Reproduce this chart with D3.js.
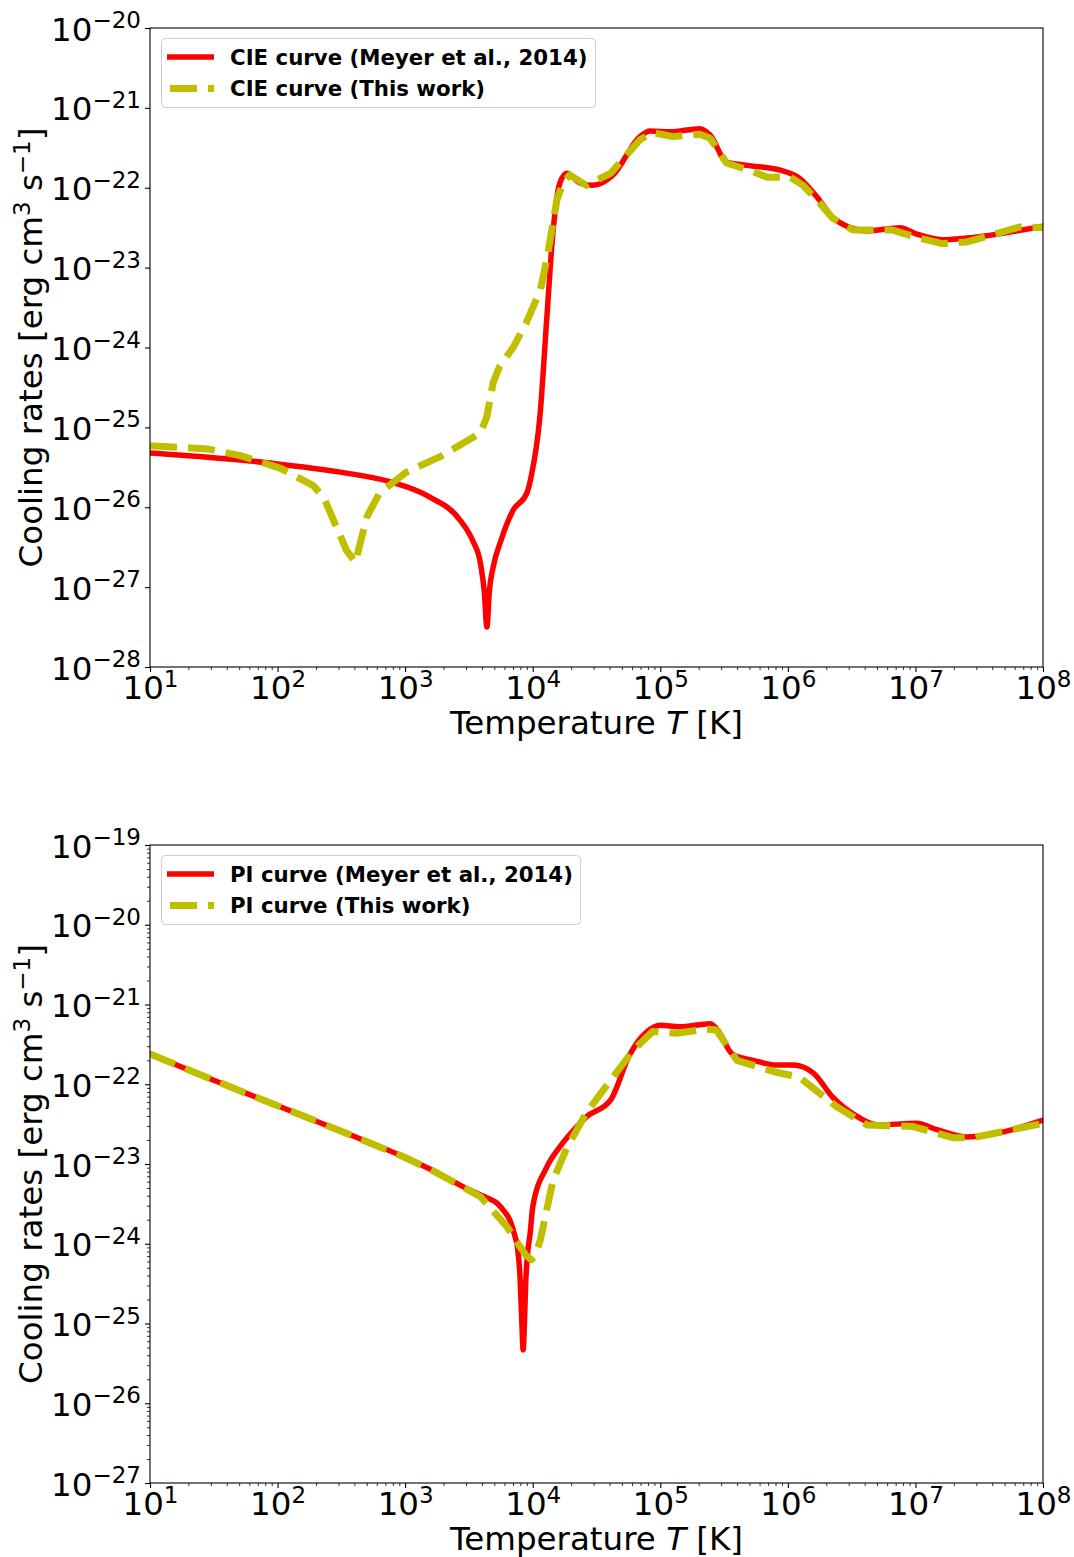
<!DOCTYPE html>
<html>
<head>
<meta charset="utf-8">
<script src="https://cdn.jsdelivr.net/npm/d3@7"></script>
<style>
  html, body { margin: 0; padding: 0; background: #fff; }
  svg { display: block; }
  svg text { font-family: "DejaVu Sans", sans-serif; }
</style>
</head>
<body>
<svg id="chart" width="1074" height="1557"></svg>
<script>
// ---------------- DATA (log10 T, log10 Lambda) ----------------
const xTickExponents = [1, 2, 3, 4, 5, 6, 7, 8];
const topYTickExponents = [-28, -27, -26, -25, -24, -23, -22, -21, -20];
const botYTickExponents = [-27, -26, -25, -24, -23, -22, -21, -20, -19];

// CIE curve (Meyer et al., 2014)
const cieMeyerLogT = [1.0, 1.43, 1.96, 2.49, 2.88, 3.19, 3.43, 3.53, 3.59, 3.62, 3.641, 3.66, 3.69, 3.75, 3.845, 3.955, 3.99, 4.056, 4.111, 4.158, 4.213, 4.268, 4.37, 4.47, 4.63, 4.84, 4.92, 5.075, 5.31, 5.39, 5.52, 5.68, 5.94, 6.09, 6.23, 6.35, 6.49, 6.62, 6.88, 7.01, 7.21, 7.40, 8.0];
const cieMeyerLogL = [-25.32, -25.37, -25.45, -25.56, -25.68, -25.87, -26.16, -26.42, -26.70, -27.05, -27.50, -27.05, -26.75, -26.42, -26.04, -25.82, -25.60, -24.87, -23.62, -22.57, -21.94, -21.82, -21.94, -21.97, -21.84, -21.36, -21.29, -21.30, -21.26, -21.34, -21.68, -21.72, -21.78, -21.88, -22.12, -22.37, -22.50, -22.54, -22.50, -22.58, -22.65, -22.63, -22.48];

// CIE curve (This work)
const cieThisLogT = [1.0, 1.45, 1.70, 2.02, 2.28, 2.36, 2.54, 2.61, 2.70, 2.80, 3.01, 3.27, 3.59, 3.64, 3.69, 3.74, 3.85, 3.95, 4.06, 4.11, 4.19, 4.24, 4.29, 4.42, 4.61, 4.84, 4.94, 5.10, 5.31, 5.39, 5.52, 5.73, 5.84, 6.02, 6.12, 6.25, 6.35, 6.51, 6.82, 7.03, 7.21, 7.40, 7.82, 8.0];
const cieThisLogL = [-25.23, -25.27, -25.35, -25.51, -25.73, -25.87, -26.54, -26.69, -26.12, -25.82, -25.56, -25.37, -25.07, -24.87, -24.44, -24.24, -23.99, -23.69, -23.28, -22.90, -22.15, -21.93, -21.84, -21.97, -21.82, -21.40, -21.31, -21.36, -21.33, -21.38, -21.69, -21.80, -21.87, -21.87, -21.97, -22.19, -22.38, -22.53, -22.53, -22.63, -22.70, -22.68, -22.49, -22.50];

// PI curve (Meyer et al., 2014)
const piMeyerLogT = [1.0, 1.5, 2.0, 2.5, 2.96, 3.19, 3.51, 3.65, 3.72, 3.78, 3.82, 3.86, 3.88, 3.90, 3.915, 3.925, 3.935, 3.945, 3.96, 3.98, 4.0, 4.11, 4.21, 4.37, 4.42, 4.61, 4.76, 4.89, 5.0, 5.15, 5.39, 5.44, 5.57, 5.73, 5.91, 6.04, 6.20, 6.35, 6.56, 6.70, 7.01, 7.17, 7.40, 8.0];
const piMeyerLogL = [-21.62, -21.95, -22.27, -22.59, -22.89, -23.06, -23.33, -23.43, -23.49, -23.60, -23.70, -23.90, -24.04, -24.40, -25.00, -25.33, -25.00, -24.50, -24.12, -23.87, -23.54, -23.04, -22.79, -22.49, -22.41, -22.20, -21.63, -21.35, -21.26, -21.28, -21.24, -21.30, -21.63, -21.70, -21.76, -21.76, -21.86, -22.16, -22.42, -22.51, -22.49, -22.57, -22.66, -22.45];

// PI curve (This work)
const piThisLogT = [1.0, 1.5, 2.0, 2.5, 2.96, 3.19, 3.59, 3.80, 3.88, 3.95, 3.99, 4.02, 4.06, 4.16, 4.27, 4.42, 4.61, 4.79, 4.94, 5.13, 5.36, 5.44, 5.60, 5.91, 6.09, 6.38, 6.62, 6.98, 7.29, 7.45, 8.0];
const piThisLogL = [-21.62, -21.95, -22.27, -22.59, -22.89, -23.06, -23.41, -23.79, -23.99, -24.15, -24.20, -24.15, -23.95, -23.20, -22.79, -22.36, -21.95, -21.57, -21.34, -21.36, -21.31, -21.32, -21.70, -21.85, -21.91, -22.28, -22.51, -22.53, -22.67, -22.67, -22.49];

const legendTop = ["CIE curve (Meyer et al., 2014)", "CIE curve (This work)"];
const legendBot = ["PI curve (Meyer et al., 2014)", "PI curve (This work)"];

// ---------------- DRAWING ----------------
const svg = d3.select("#chart");
const RED = "#ff0000", YEL = "#bfbf00";
const DASH = "27,11";
const FONT = "DejaVu Sans, sans-serif";
const pow10 = v => Math.pow(10, v);
const MINUS = "\u2212";
const FS = 32.5, FSUP = 23, SUPDY = 12.5;

function drawPanel(cfg) {
  const x = d3.scaleLog().domain([1e1, 1e8]).range([cfg.x0, cfg.x1]);
  const y = d3.scaleLog().domain([pow10(cfg.yMinExp), pow10(cfg.yMaxExp)]).range([cfg.y1, cfg.y0]);

  const g = svg.append("g");
  const clipId = "clip" + cfg.id;
  svg.append("clipPath").attr("id", clipId).append("rect")
    .attr("x", cfg.x0).attr("y", cfg.y0).attr("width", cfg.x1 - cfg.x0).attr("height", cfg.y1 - cfg.y0);

  // curves
  const line = d3.line().x(d => x(pow10(d[0]))).y(d => y(pow10(d[1])));
  const curves = g.append("g").attr("clip-path", `url(#${clipId})`);
  const redData = d3.zip(cfg.redT, cfg.redL);
  const yelData = d3.zip(cfg.yelT, cfg.yelL);
  curves.append("path").datum(redData)
    .attr("d", line.curve(d3.curveMonotoneX))
    .attr("fill", "none").attr("stroke", RED).attr("stroke-width", 5.5)
    .attr("stroke-linejoin", "round").attr("stroke-linecap", "round");
  curves.append("path").datum(yelData)
    .attr("d", line.curve(d3.curveLinear))
    .attr("fill", "none").attr("stroke", YEL).attr("stroke-width", 7)
    .attr("stroke-dasharray", DASH).attr("stroke-linejoin", "round");

  // frame
  g.append("rect").attr("x", cfg.x0).attr("y", cfg.y0)
    .attr("width", cfg.x1 - cfg.x0).attr("height", cfg.y1 - cfg.y0)
    .attr("fill", "none").attr("stroke", "#000").attr("stroke-width", 1.1);

  // x axis major
  const xMajor = xTickExponents.map(pow10);
  const xMinor = [];
  for (let e = 1; e < 8; e++) for (let m = 2; m <= 9; m++) xMinor.push(m * pow10(e));
  const gx = g.append("g").attr("transform", `translate(0,${cfg.y1})`)
    .call(d3.axisBottom(x).tickValues(xMajor).tickSize(5).tickFormat(() => ""))
    .attr("font-family", FONT).attr("font-size", null);
  gx.select(".domain").remove();
  gx.selectAll(".tick line").attr("stroke", "#000").attr("stroke-width", 1.1);
  gx.selectAll(".tick text").remove();
  gx.selectAll(".tick").each(function(d, i) {
    const t = d3.select(this).append("text")
      .attr("y", 32).attr("text-anchor", "middle").attr("fill", "#000")
      .style("font-size", FS + "px").style("font-family", FONT);
    t.append("tspan").text("10");
    t.append("tspan").attr("dy", -SUPDY).style("font-size", FSUP + "px").text(String(xTickExponents[i]));
  });
  const gxm = g.append("g").attr("transform", `translate(0,${cfg.y1})`)
    .call(d3.axisBottom(x).tickValues(xMinor).tickSize(3).tickFormat(() => ""));
  gxm.select(".domain").remove();
  gxm.selectAll(".tick text").remove();
  gxm.selectAll(".tick line").attr("stroke", "#000").attr("stroke-width", 0.8);

  // y axis major
  const gy = g.append("g").attr("transform", `translate(${cfg.x0},0)`)
    .call(d3.axisLeft(y).tickValues(cfg.yTicks.map(pow10)).tickSize(5).tickFormat(() => ""))
    .attr("font-family", FONT).attr("font-size", null);
  gy.select(".domain").remove();
  gy.selectAll(".tick line").attr("stroke", "#000").attr("stroke-width", 1.1);
  gy.selectAll(".tick text").remove();
  gy.selectAll(".tick").each(function(d, i) {
    const t = d3.select(this).append("text")
      .attr("x", -9).attr("y", 12).attr("text-anchor", "end").attr("fill", "#000")
      .style("font-size", FS + "px").style("font-family", FONT);
    t.append("tspan").text("10");
    t.append("tspan").attr("dy", -SUPDY).style("font-size", FSUP + "px")
      .text(MINUS + String(Math.abs(cfg.yTicks[i])));
  });
  if (cfg.yMinor) {
    const yMinorVals = [];
    for (let e = cfg.yMinExp; e < cfg.yMaxExp; e++) for (let m = 2; m <= 9; m++) yMinorVals.push(m * pow10(e));
    const gym = g.append("g").attr("transform", `translate(${cfg.x0},0)`)
      .call(d3.axisLeft(y).tickValues(yMinorVals).tickSize(3).tickFormat(() => ""));
    gym.select(".domain").remove();
    gym.selectAll(".tick text").remove();
    gym.selectAll(".tick line").attr("stroke", "#000").attr("stroke-width", 0.8);
  }

  // x label
  const xl = g.append("text").attr("x", (cfg.x0 + cfg.x1) / 2).attr("y", cfg.y1 + 67)
    .attr("text-anchor", "middle").style("font-size", FS + "px").attr("fill", "#000");
  xl.append("tspan").text("Temperature ");
  xl.append("tspan").style("font-style", "italic").text("T");
  xl.append("tspan").text(" [K]");

  // y label
  const yl = g.append("text")
    .attr("transform", `translate(42,${(cfg.y0 + cfg.y1) / 2}) rotate(-90)`)
    .attr("text-anchor", "middle").style("font-size", FS + "px").attr("fill", "#000");
  yl.append("tspan").text("Cooling rates [erg cm");
  yl.append("tspan").attr("dy", -SUPDY).style("font-size", FSUP + "px").text("3");
  yl.append("tspan").attr("dy", SUPDY).text(" s");
  yl.append("tspan").attr("dy", -SUPDY).style("font-size", FSUP + "px").text(MINUS + "1");
  yl.append("tspan").attr("dy", SUPDY).text("]");

  // legend
  const lg = g.append("g");
  lg.append("rect").attr("x", cfg.x0 + 11.5).attr("y", cfg.y0 + 10.5)
    .attr("width", cfg.legW).attr("height", 69).attr("rx", 4)
    .attr("fill", "#fff").attr("fill-opacity", 0.8)
    .attr("stroke", "#cccccc").attr("stroke-width", 1);
  const rows = [
    { label: cfg.legend[0], color: RED, w: 5.5, dash: null },
    { label: cfg.legend[1], color: YEL, w: 7, dash: DASH }
  ];
  rows.forEach((r, i) => {
    const cy = cfg.y0 + 29 + i * 31.5;
    const ln = lg.append("line")
      .attr("x1", cfg.x0 + (r.dash ? 20 : 17)).attr("x2", cfg.x0 + 64)
      .attr("y1", cy).attr("y2", cy)
      .attr("stroke", r.color).attr("stroke-width", r.w);
    if (r.dash) ln.attr("stroke-dasharray", r.dash);
    lg.append("text").attr("x", cfg.x0 + 80).attr("y", cy + 7.5)
      .style("font-size", "21.3px").style("font-weight", "bold").attr("fill", "#000")
      .text(r.label);
  });
}

drawPanel({
  id: "top", x0: 150, x1: 1043, y0: 28, y1: 667, yMinExp: -28, yMaxExp: -20,
  yTicks: topYTickExponents, yMinor: false,
  redT: cieMeyerLogT, redL: cieMeyerLogL, yelT: cieThisLogT, yelL: cieThisLogL,
  legend: legendTop, legW: 434
});
drawPanel({
  id: "bot", x0: 150, x1: 1043, y0: 845, y1: 1483, yMinExp: -27, yMaxExp: -19,
  yTicks: botYTickExponents, yMinor: true,
  redT: piMeyerLogT, redL: piMeyerLogL, yelT: piThisLogT, yelL: piThisLogL,
  legend: legendBot, legW: 419
});
</script>
</body>
</html>
